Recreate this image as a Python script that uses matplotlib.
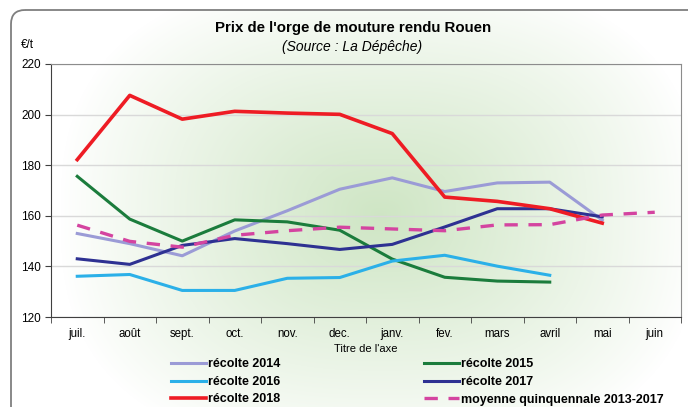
import numpy as np
import matplotlib.pyplot as plt
from matplotlib.patches import FancyBboxPatch

plt.rcParams['font.family'] = ['Liberation Sans', 'DejaVu Sans']

mois = ["juil.", "août", "sept.", "oct.", "nov.", "dec.", "janv.", "fev.", "mars", "avril", "mai", "juin"]

recolte_2014 = [153, 149, 144.2, 154, 162, 170.5, 175, 169.6, 173, 173.3, 158.3]
recolte_2015 = [175.6, 158.7, 150, 158.4, 157.6, 154.3, 142.9, 135.7, 134.2, 133.8]
recolte_2016 = [136.1, 136.8, 130.5, 130.5, 135.3, 135.6, 142.1, 144.4, 140.1, 136.5]
recolte_2017 = [143, 140.8, 148.3, 151, 149, 146.7, 148.7, 155.6, 162.8, 162.8, 159.6]
recolte_2018 = [182.2, 207.6, 198.2, 201.3, 200.6, 200.1, 192.5, 167.4, 165.7, 162.8, 157.1]
moyenne = [156.3, 149.9, 147.6, 152.3, 154.1, 155.5, 154.8, 154.1, 156.4, 156.5, 160.3, 161.4]

W, H = 688, 407
fig = plt.figure(figsize=(W / 100, H / 100), dpi=100)

# fond dégradé vert + cadre arrondi
bg = fig.add_axes([0, 0, 1, 1])
bg.set_xlim(0, W)
bg.set_ylim(H, 0)
bg.axis('off')
yy, xx = np.mgrid[0:H, 0:W]
p = 2.6
d = (np.abs((xx - 380) / 320.0) ** p + np.abs((yy - 215) / 240.0) ** p) ** (1 / p)
t = np.clip(1 - d, 0, 1) ** 0.9
vert = np.array([0.81, 0.90, 0.77])
img = 1 - t[..., None] * (1 - vert)
img[:, :11] = 1
img[:10, :] = 1
bg.imshow(img, extent=(0, W, H, 0), aspect='auto', zorder=0)
bg.add_patch(FancyBboxPatch((11, 10), 720, 460, boxstyle="round,pad=0,rounding_size=14",
                            fc='none', ec='#7f7f7f', lw=1.3, zorder=1))

ax = fig.add_axes([51 / W, 1 - 317 / H, 630 / W, 253 / H])
ax.set_facecolor('none')
x = np.arange(len(mois))

ax.plot(x[:len(recolte_2014)], recolte_2014, color='#9b9bd6', lw=2.2, label='récolte 2014')
ax.plot(x[:len(recolte_2015)], recolte_2015, color='#1b7c3c', lw=2.2, label='récolte 2015')
ax.plot(x[:len(recolte_2016)], recolte_2016, color='#2bb0e8', lw=2.2, label='récolte 2016')
ax.plot(x[:len(recolte_2017)], recolte_2017, color='#2e3192', lw=2.2, label='récolte 2017')
ax.plot(x[:len(recolte_2018)], recolte_2018, color='#ee1c24', lw=2.6, label='récolte 2018')
ax.plot(x[:len(moyenne)], moyenne, color='#d444a0', lw=2.4, dashes=(4, 3.2),
        label='moyenne quinquennale 2013-2017')

ax.set_xlim(-0.5, len(mois) - 0.5)
ax.set_ylim(120, 220)
ax.set_yticks(np.arange(120, 221, 20))
ax.set_xticks(x)
ax.set_xticklabels(mois)
ax.set_xticks(np.arange(-0.5, len(mois)), minor=True)
ax.tick_params(axis='x', which='major', length=0, labelsize=8.3, pad=8)
ax.tick_params(axis='x', which='minor', length=4, color='#404040')
ax.tick_params(axis='y', length=4, labelsize=8.5, color='#404040', pad=3)
ax.grid(axis='y', color='#d9d9d9', lw=1)
ax.set_axisbelow(True)
for s in ['left', 'bottom']:
    ax.spines[s].set_color('#404040')
for s in ['top', 'right']:
    ax.spines[s].set_color('#8c8c8c')
ax.set_xlabel("Titre de l'axe", fontsize=8, labelpad=3)

fig.text(353 / W, 1 - 28 / H, "Prix de l'orge de mouture rendu Rouen", ha='center', va='center',
         fontsize=10.8, fontweight='bold')
fig.text(352 / W, 1 - 47 / H, "(Source : La Dépêche)", ha='center', va='center',
         fontsize=10, style='italic')
fig.text(27 / W, 1 - 45 / H, "€/t", ha='center', va='center', fontsize=8.5)

h, l = ax.get_legend_handles_labels()
ordre = [0, 2, 4, 1, 3, 5]
fig.legend([h[i] for i in ordre], [l[i] for i in ordre], ncol=2, frameon=False,
           loc='upper left', bbox_to_anchor=(165 / W, 1 - 352 / H),
           prop={'weight': 'bold', 'size': 9}, handlelength=2.8, handletextpad=0.15,
           columnspacing=11.5, labelspacing=0.45, borderpad=0)

fig.savefig('out.png', dpi=100)
